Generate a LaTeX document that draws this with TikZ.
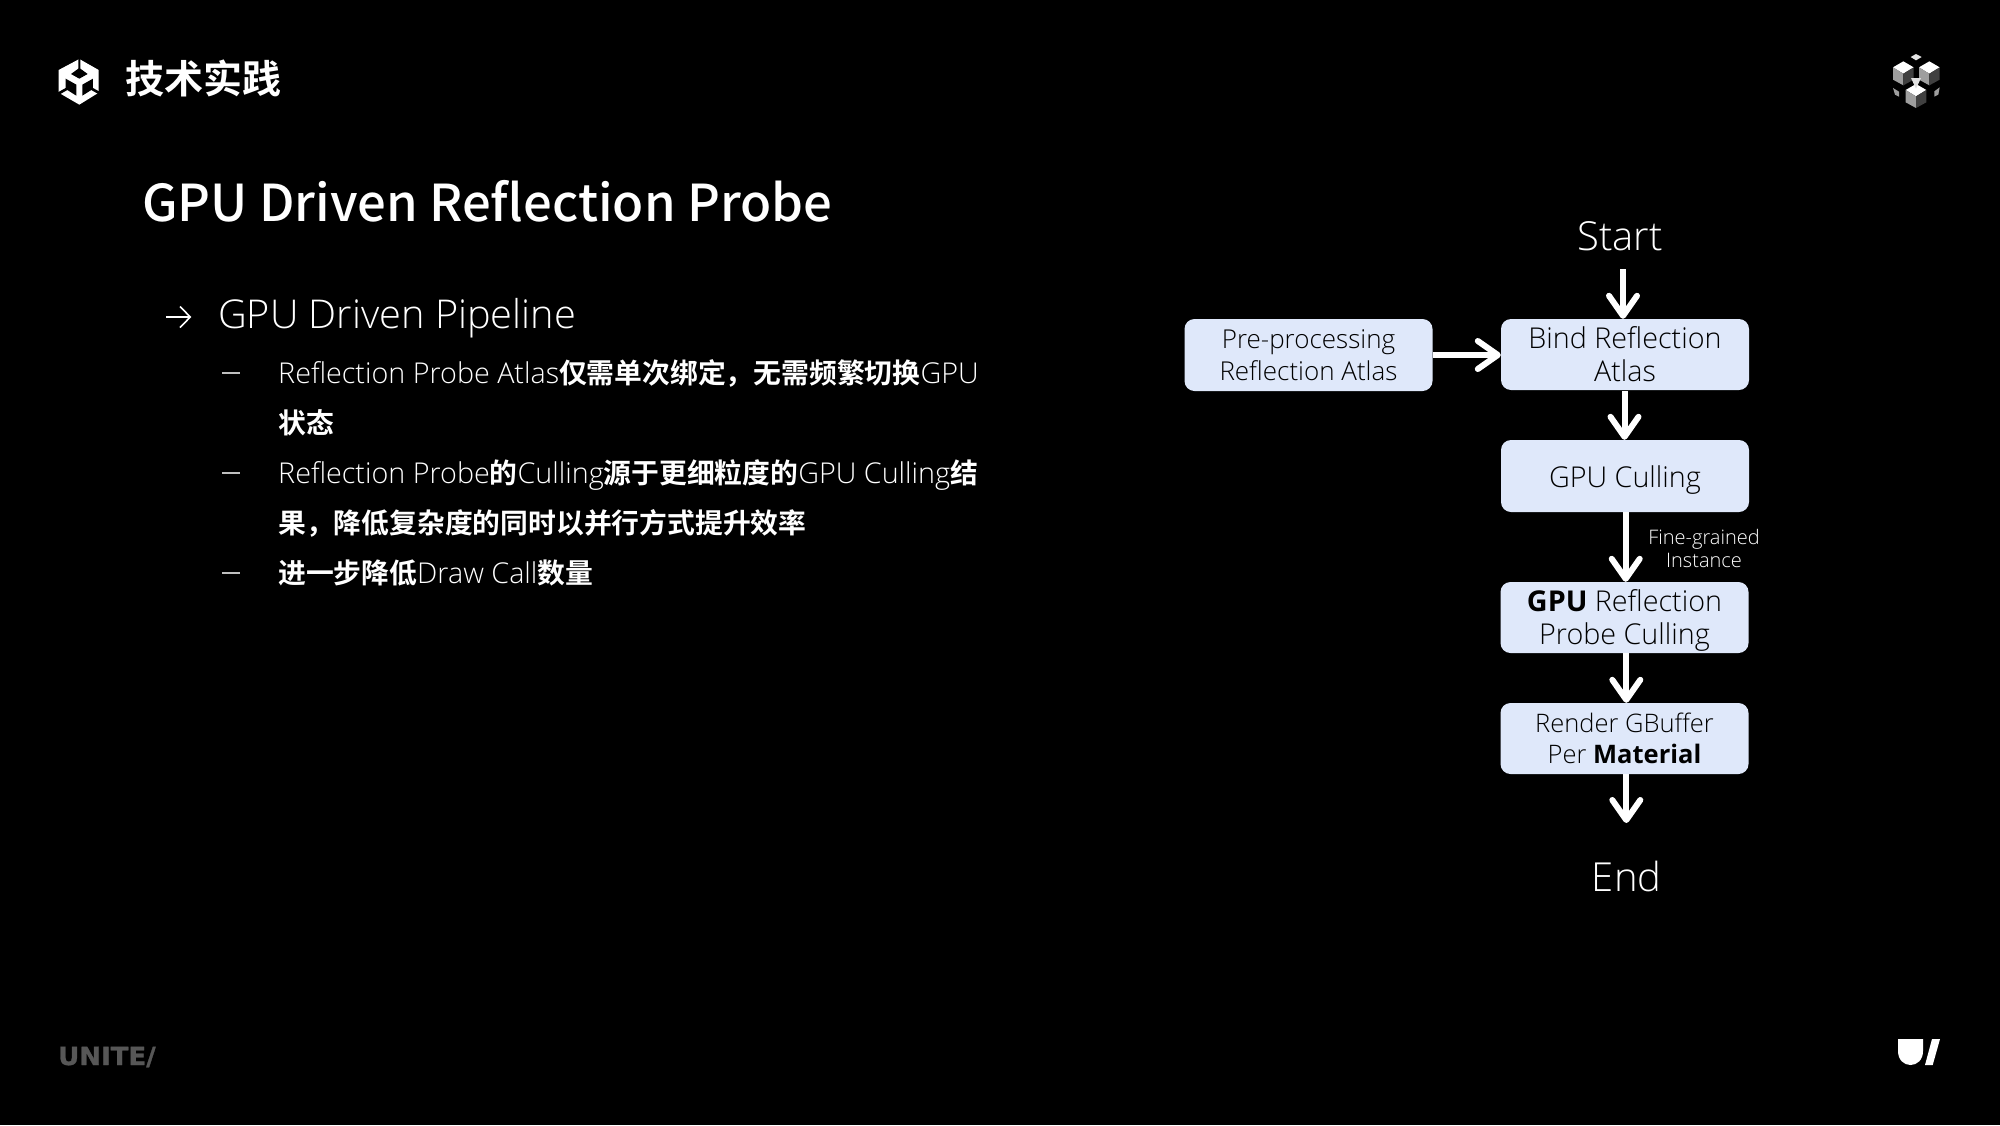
\documentclass[tikz,border=0pt]{standalone}
\usepackage{fontspec}
\usetikzlibrary{arrows.meta,calc}
\setmainfont{Open Sans Light}[BoldFont={Open Sans Bold}]
\newfontfamily\cjk{Noto Sans CJK SC}[BoldFont={Noto Sans CJK SC Bold}]
\newfontfamily\cjkmed{Noto Sans CJK SC Medium}
\newfontfamily\heavy{DejaVu Sans Bold}[FakeStretch=1.04,FakeBold=1.2]
\newcommand{\fsz}[1]{\fontsize{#1}{#1}\selectfont}
\newcommand{\zh}[1]{{\cjk\bfseries\fsz{27.8}#1}}
\definecolor{boxblue}{HTML}{DFE8FA}
\definecolor{uniteg}{HTML}{575757}
\tikzset{
  flowbox/.style={fill=boxblue,rounded corners=10pt,draw=none,inner sep=0pt,text=black,align=center,minimum width=248pt,minimum height=71pt,font=\fsz{28.7}},
  txt/.style={inner sep=0pt,anchor=base west,text=white},
  bodytxt/.style={txt,font=\fsz{28.7}},
  flowarrow/.style={draw=white,line width=6pt,-{Straight Barb[length=20pt,width=28pt,line width=6pt,round]}},
  dashmark/.style={draw=white!75!black,line width=1.6pt},
}
\begin{document}
\begin{tikzpicture}[x=1pt,y=-1pt]
\useasboundingbox (0,0) rectangle (2000,1125);
\fill[black] (0,0) rectangle (2000,1125);

% Unity logo
\begin{scope}[shift={(50,50)},x=0.3333pt,y=-0.3333pt]
\fill[white] (88,27) -- (146,60) -- (146,128) -- (88,164) -- (26,128) -- (26,60) -- cycle;
\fill[black] (85,27) -- (91,27) -- (91,56) -- (113,72) -- (88,86) -- (63,72) -- (85,56) -- cycle;
\fill[black] (47,86) -- (79,104) -- (79,137) -- (52,120) -- (26,135) -- (22,128) -- (47,114) -- cycle;
\fill[black] (129,86) -- (97,104) -- (97,137) -- (124,120) -- (150,135) -- (154,128) -- (129,114) -- cycle;
\end{scope}

% cube logo
\begin{scope}[shift={(1885,48)},x=0.3333pt,y=-0.3333pt]
\fill[white!90!black] (93,18) -- (110,27) -- (93,37) -- (77,27) -- cycle;
\foreach \cx/\cy in {55/40,133/40,93/108}{
  \fill[white] (\cx,\cy) -- (\cx+31,\cy+18) -- (\cx,\cy+37) -- (\cx-31,\cy+18) -- cycle;
  \fill[white!62!black] (\cx-31,\cy+18) -- (\cx,\cy+37) -- (\cx,\cy+72) -- (\cx-31,\cy+55) -- cycle;
  \fill[white!25!black] (\cx+31,\cy+18) -- (\cx,\cy+37) -- (\cx,\cy+72) -- (\cx+31,\cy+55) -- cycle;
}
\fill[white!62!black] (24,120) -- (42,131) -- (42,146) -- (30,140) -- cycle;
\fill[white!62!black] (164,118) -- (148,130) -- (148,146) -- (160,140) -- cycle;
\fill[white!88!black] (78,90) -- (108,90) -- (93,122) -- cycle;
\end{scope}

% corner marks
\node[txt,font=\cjk\bfseries\fsz{39}] (head) at (125,93.5) {技术实践};
\node[txt,font=\heavy\fsz{25},text=uniteg] (unite) at (58,1065) {UNITE/};
\fill[white] (1898,1039) -- (1923,1039) -- (1923,1051) .. controls (1923,1060) and (1917,1065) .. (1910.5,1065) .. controls (1904,1065) and (1898,1060) .. (1898,1051) -- cycle;
\fill[white] (1932,1039) -- (1940,1039) -- (1932.7,1065) -- (1925,1065) -- cycle;

% left text
\node[txt,font=\cjkmed\fsz{50.8}] (title) at (142,221.5) {GPU Driven Reflection Probe};
\draw[white,line width=1.6pt] (166,317) -- (190,317);
\draw[white,line width=1.6pt] (180,306.5) -- (190.3,317) -- (180,327.5);
\node[txt,font=\fsz{39.7}] (sub) at (218,328) {GPU Driven Pipeline};
\draw[dashmark] (222,372.7) -- (240,372.7);
\draw[dashmark] (222,472.7) -- (240,472.7);
\draw[dashmark] (222,572.7) -- (240,572.7);
\node[bodytxt] (l1) at (278,383) {Reflection Probe Atlas\zh{仅需单次绑定，无需频繁切换}GPU};
\node[bodytxt] (l2) at (278,433) {\zh{状态}};
\node[bodytxt] (l3) at (278,483) {Reflection Probe\zh{的}Culling\zh{源于更细粒度的}GPU Culling\zh{结}};
\node[bodytxt] (l4) at (278,533) {\zh{果，降低复杂度的同时以并行方式提升效率}};
\node[bodytxt] (l5) at (278,583) {\zh{进一步降低}Draw Call\zh{数量}};

% flow nodes
\node[txt,anchor=base,font=\fsz{40}] (start) at (1620,250) {Start};
\node[flowbox,minimum height=72pt,font=\fsz{26}] (pre) at (1308.5,355) {Pre-processing\\[5pt]Reflection Atlas};
\node[flowbox] (bind) at (1625,354.5) {Bind Reflection\\[4.3pt]Atlas};
\node[flowbox,minimum height=72pt] (gpu) at (1625,476) {\rule{0pt}{29pt}GPU Culling};
\node[flowbox] (probe) at (1624.5,617.5) {\rule{0pt}{27pt}\textbf{GPU} Reflection\\[4.3pt]Probe Culling};
\node[flowbox,font=\fsz{25.5}] (render) at (1624.5,738.5) {Render GBuffer\\[5pt]Per \textbf{Material}};
\node[txt,anchor=base,font=\fsz{40}] (end) at (1626.7,891) {End};
\node[inner sep=0pt,text=white,align=center,font=\fsz{20}] (fine) at (1704,548.5) {Fine-grained\\[3pt]Instance};

% connectors
\coordinate (s) at (1623,269);
\coordinate (a) at (1624.5,391);
\coordinate (b) at (1625.7,512);
\coordinate (c) at (1626.3,653);
\coordinate (d) at (1626.3,774);
\coordinate (e) at (1626.3,823);
\draw[flowarrow] (s) -- (s |- bind.north);
\draw[flowarrow] (pre.east |- 0,355) -- (bind.west |- 0,355);
\draw[flowarrow] (a) -- (a |- gpu.north);
\draw[flowarrow] (b) -- (b |- probe.north);
\draw[flowarrow] (c) -- (c |- render.north);
\draw[flowarrow] (d) -- (e);
\end{tikzpicture}
\end{document}
